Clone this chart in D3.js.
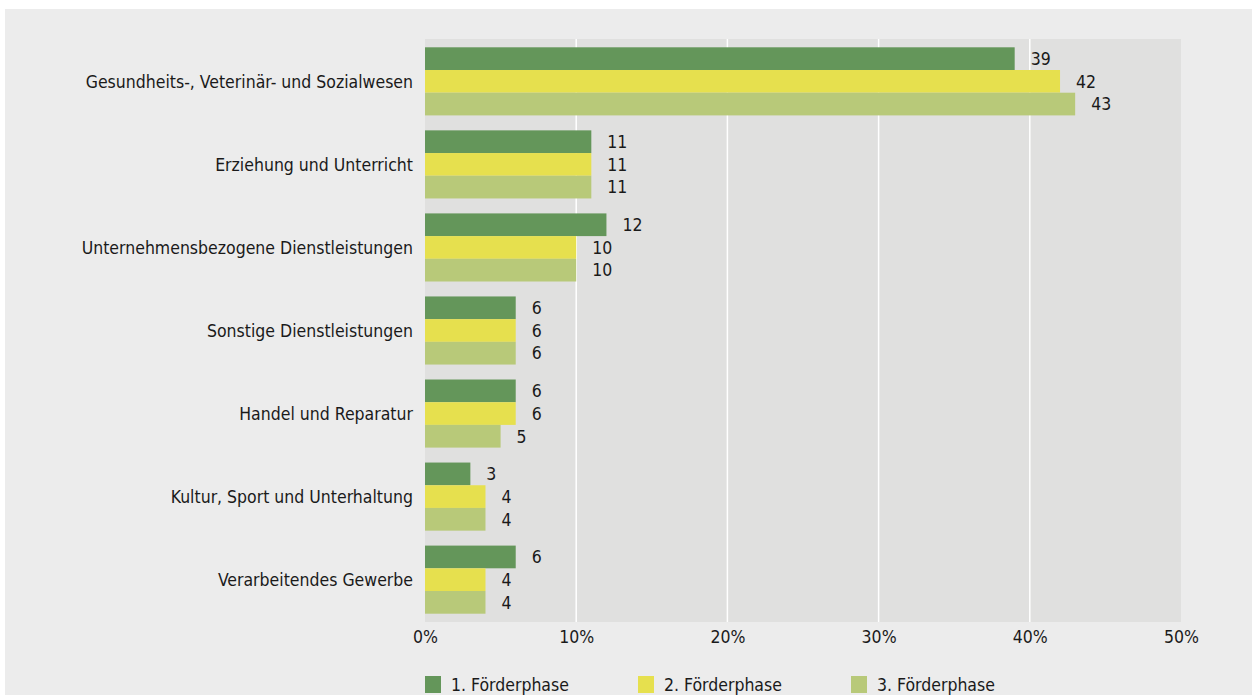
<!DOCTYPE html>
<html><head><meta charset="utf-8">
<script src="https://cdn.jsdelivr.net/npm/d3@7"></script>
<style>
html,body{margin:0;padding:0;background:#fff;}
svg{display:block;}
text{font-family:"DejaVu Sans Condensed","DejaVu Sans",sans-serif;fill:#1a1a1a;}
</style></head>
<body>
<svg id="chart" width="1252" height="695"></svg>
<script>
const categories = [
  "Gesundheits-, Veterinär- und Sozialwesen",
  "Erziehung und Unterricht",
  "Unternehmensbezogene Dienstleistungen",
  "Sonstige Dienstleistungen",
  "Handel und Reparatur",
  "Kultur, Sport und Unterhaltung",
  "Verarbeitendes Gewerbe"
];
const seriesNames = ["1. Förderphase", "2. Förderphase", "3. Förderphase"];
const phase1 = [39, 11, 12, 6, 6, 3, 6];
const phase2 = [42, 11, 10, 6, 6, 4, 4];
const phase3 = [43, 11, 10, 6, 5, 4, 4];
const xTicks = [0, 10, 20, 30, 40, 50];
const colors = ["#64965a", "#e6e04e", "#b8c979"];

const series = [phase1, phase2, phase3];
const svg = d3.select("#chart");
const W = 1252, H = 695;
const FS = 17.5;

svg.append("rect").attr("x", 5).attr("y", 9).attr("width", W - 5).attr("height", H - 9).attr("fill", "#ececec");

const x = d3.scaleLinear().domain([0, 50]).range([425, 1181]);
const y = d3.scaleBand().domain(categories).range([39, 622]).paddingInner(0.18).paddingOuter(0.1);
const ySub = d3.scaleBand().domain(seriesNames).range([0, y.bandwidth()]);

svg.append("rect").attr("x", x(0)).attr("y", 39).attr("width", x(50) - x(0)).attr("height", 622 - 39).attr("fill", "#e0e0df");

svg.append("g").selectAll("line").data(xTicks.filter(t => t > 0 && t < 50)).join("line")
  .attr("x1", d => x(d)).attr("x2", d => x(d)).attr("y1", 39).attr("y2", 622)
  .attr("stroke", "#ffffff").attr("stroke-width", 1.5);

const groups = svg.append("g").selectAll("g").data(categories).join("g")
  .attr("transform", d => `translate(0,${y(d)})`);

groups.each(function(cat, i) {
  const g = d3.select(this);
  seriesNames.forEach((s, j) => {
    const v = series[j][i];
    g.append("rect").attr("x", x(0)).attr("y", ySub(s)).attr("width", x(v) - x(0))
      .attr("height", ySub.bandwidth()).attr("fill", colors[j]);
    g.append("text").attr("x", x(v) + 16).attr("y", ySub(s) + ySub.bandwidth() / 2)
      .attr("dy", "0.36em").attr("font-size", FS).text(v);
  });
  g.append("text").attr("x", 413).attr("y", y.bandwidth() / 2).attr("dy", "0.36em")
    .attr("text-anchor", "end").attr("font-size", FS).text(cat);
});

const xAxis = d3.axisBottom(x).tickValues(xTicks).tickFormat(d => d + "%").tickSize(0).tickPadding(0);
const ax = svg.append("g").attr("transform", "translate(0,637)").call(xAxis);
ax.select(".domain").remove();
ax.selectAll("text").attr("font-size", FS).attr("dy", "0.36em").attr("y", 0)
  .style("font-family", '"DejaVu Sans Condensed","DejaVu Sans",sans-serif').attr("fill", "#1a1a1a");

const legendX = [425, 638, 851];
const lg = svg.append("g").selectAll("g").data(seriesNames).join("g")
  .attr("transform", (d, i) => `translate(${legendX[i]},676)`);
lg.append("rect").attr("width", 16).attr("height", 17).attr("fill", (d, i) => colors[i]);
lg.append("text").attr("x", 26).attr("y", 9).attr("dy", "0.36em").attr("font-size", FS).text(d => d);
</script>
</body></html>
